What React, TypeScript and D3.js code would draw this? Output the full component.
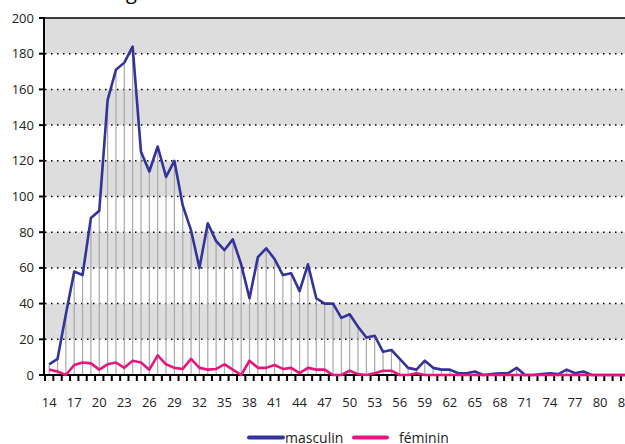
import React from "react";
import * as d3 from "d3";

const ages: number[] = d3.range(14, 86);
const masculin: number[] = [
  6, 9, 34, 58, 56, 88, 92, 154, 171, 175, 184, // 14-24
  125, 114, 128, 111, 120, 95, 81, 60, 85, 75, // 25-34
  70, 76, 62, 43, 66, 71, 65, 56, 57, 47, // 35-44
  62, 43, 40, 40, 32, 34, 27, 21, 22, 13, // 45-54
  14, 9, 4, 3, 8, 4, 3, 3, 1, 1, // 55-64
  2, 0, 0.5, 1, 1, 4, 0, 0, 0.5, 1, // 65-74
  0.5, 3, 1, 2, 0, 0, 0, 0, 0, 0, 0, 0, // 75-85
];
const feminin: number[] = [
  3, 2, 0, 5.6, 7, 6.5, 3, 6, 7, 4, 8, // 14-24
  7, 3, 11, 6, 4, 3.4, 9, 4, 3, 3.4, // 25-34
  6, 3, 0, 8, 4, 4, 5.6, 3.4, 4, 1, // 35-44
  4, 3, 3, 0, 0, 2.4, 0.5, 0, 1, 2.4, // 45-54
  2.4, 0, 0, 1, 0, 0, 0, 0, 0, 0, // 55-64
  0, 0, 0, 0, 0, 0, 0, 0, 0, 0, // 65-74
  0, 0, 0, 0, 0, 0, 0, 0, 0, 0, 0, 0, // 75-85
];
const yTicks: number[] = [0, 20, 40, 60, 80, 100, 120, 140, 160, 180, 200];
const seriesNames: string[] = ["masculin", "féminin"];
const seriesColors: string[] = ["#333399", "#e5177f"];

const W = 625;
const H = 444;
const FONT = "'Open Sans', 'DejaVu Sans', sans-serif";

export default function App() {
  const x = d3.scaleBand<number>().domain(ages).range([45, 646]).paddingInner(0).paddingOuter(0);
  const y = d3.scaleLinear().domain([0, 200]).range([375, 18]);
  const cx = (a: number) => (x(a) as number) + x.bandwidth() / 2;
  const line = d3
    .line<number>()
    .x((_, i) => cx(ages[i]))
    .y((d) => y(d));
  const bands = yTicks.slice(0, -1).filter((t) => (t / 20) % 2 === 1);
  const left = 45;
  const right = W;

  return (
    <svg
      width={W}
      height={H}
      style={{ position: "absolute", left: 0, top: 0, background: "#fff", overflow: "hidden" }}
      fontFamily={FONT}
    >
      <text x={115} y={-0.8} fontSize={20} fill="#000">âge</text>
      {/* bands */}
      {bands.map((t) => (
        <rect key={t} x={left} y={y(t + 20)} width={right - left} height={y(t) - y(t + 20)} fill="#dddddd" />
      ))}
      {/* gridlines */}
      {yTicks.slice(1, -1).map((t) => (
        <line key={t} x1={left} x2={right} y1={y(t)} y2={y(t)} stroke="#000" strokeWidth={1.5} strokeDasharray="1.5 4.5" />
      ))}
      <line x1={left} x2={right} y1={y(200)} y2={y(200)} stroke="#000" strokeWidth={1.5} />
      {/* drop lines */}
      {ages.map((a, i) => (
        <line
          key={a}
          x1={cx(a)}
          x2={cx(a)}
          y1={y(Math.max(masculin[i], feminin[i]))}
          y2={y(0)}
          stroke="#a8a8a8"
          strokeWidth={1.2}
        />
      ))}
      {/* axes */}
      <line x1={44} x2={44} y1={y(200) - 1} y2={y(0) + 1} stroke="#000" strokeWidth={2} />
      {yTicks.map((t) => (
        <g key={t}>
          <line x1={39} x2={44} y1={y(t)} y2={y(t)} stroke="#000" strokeWidth={2} />
          <text x={34} y={y(t)} dy="0.35em" textAnchor="end" fontSize={13} fill="#222">{t}</text>
        </g>
      ))}
      <line x1={43} x2={right} y1={y(0)} y2={y(0)} stroke="#000" strokeWidth={2} />
      {ages.map((a) => (
        <line key={a} x1={x(a) as number} x2={x(a) as number} y1={y(0)} y2={y(0) + 6} stroke="#000" strokeWidth={2} />
      ))}
      {ages.filter((a) => (a - 14) % 3 === 0).map((a) => (
        <text key={a} x={cx(a)} y={407} textAnchor="middle" fontSize={13} fill="#222">{a}</text>
      ))}
      {/* series */}
      <path d={line(masculin) || ""} fill="none" stroke={seriesColors[0]} strokeWidth={2.6} strokeLinejoin="round" />
      <path d={line(feminin) || ""} fill="none" stroke={seriesColors[1]} strokeWidth={2.6} strokeLinejoin="round" />
      {/* legend */}
      <line x1={249} x2={283} y1={437.5} y2={437.5} stroke={seriesColors[0]} strokeWidth={4} strokeLinecap="round" />
      <text x={285} y={443} fontSize={14} fill="#222">{seriesNames[0]}</text>
      <line x1={354} x2={387} y1={437.5} y2={437.5} stroke={seriesColors[1]} strokeWidth={4} strokeLinecap="round" />
      <text x={399} y={443} fontSize={14} fill="#222">{seriesNames[1]}</text>
    </svg>
  );
}
